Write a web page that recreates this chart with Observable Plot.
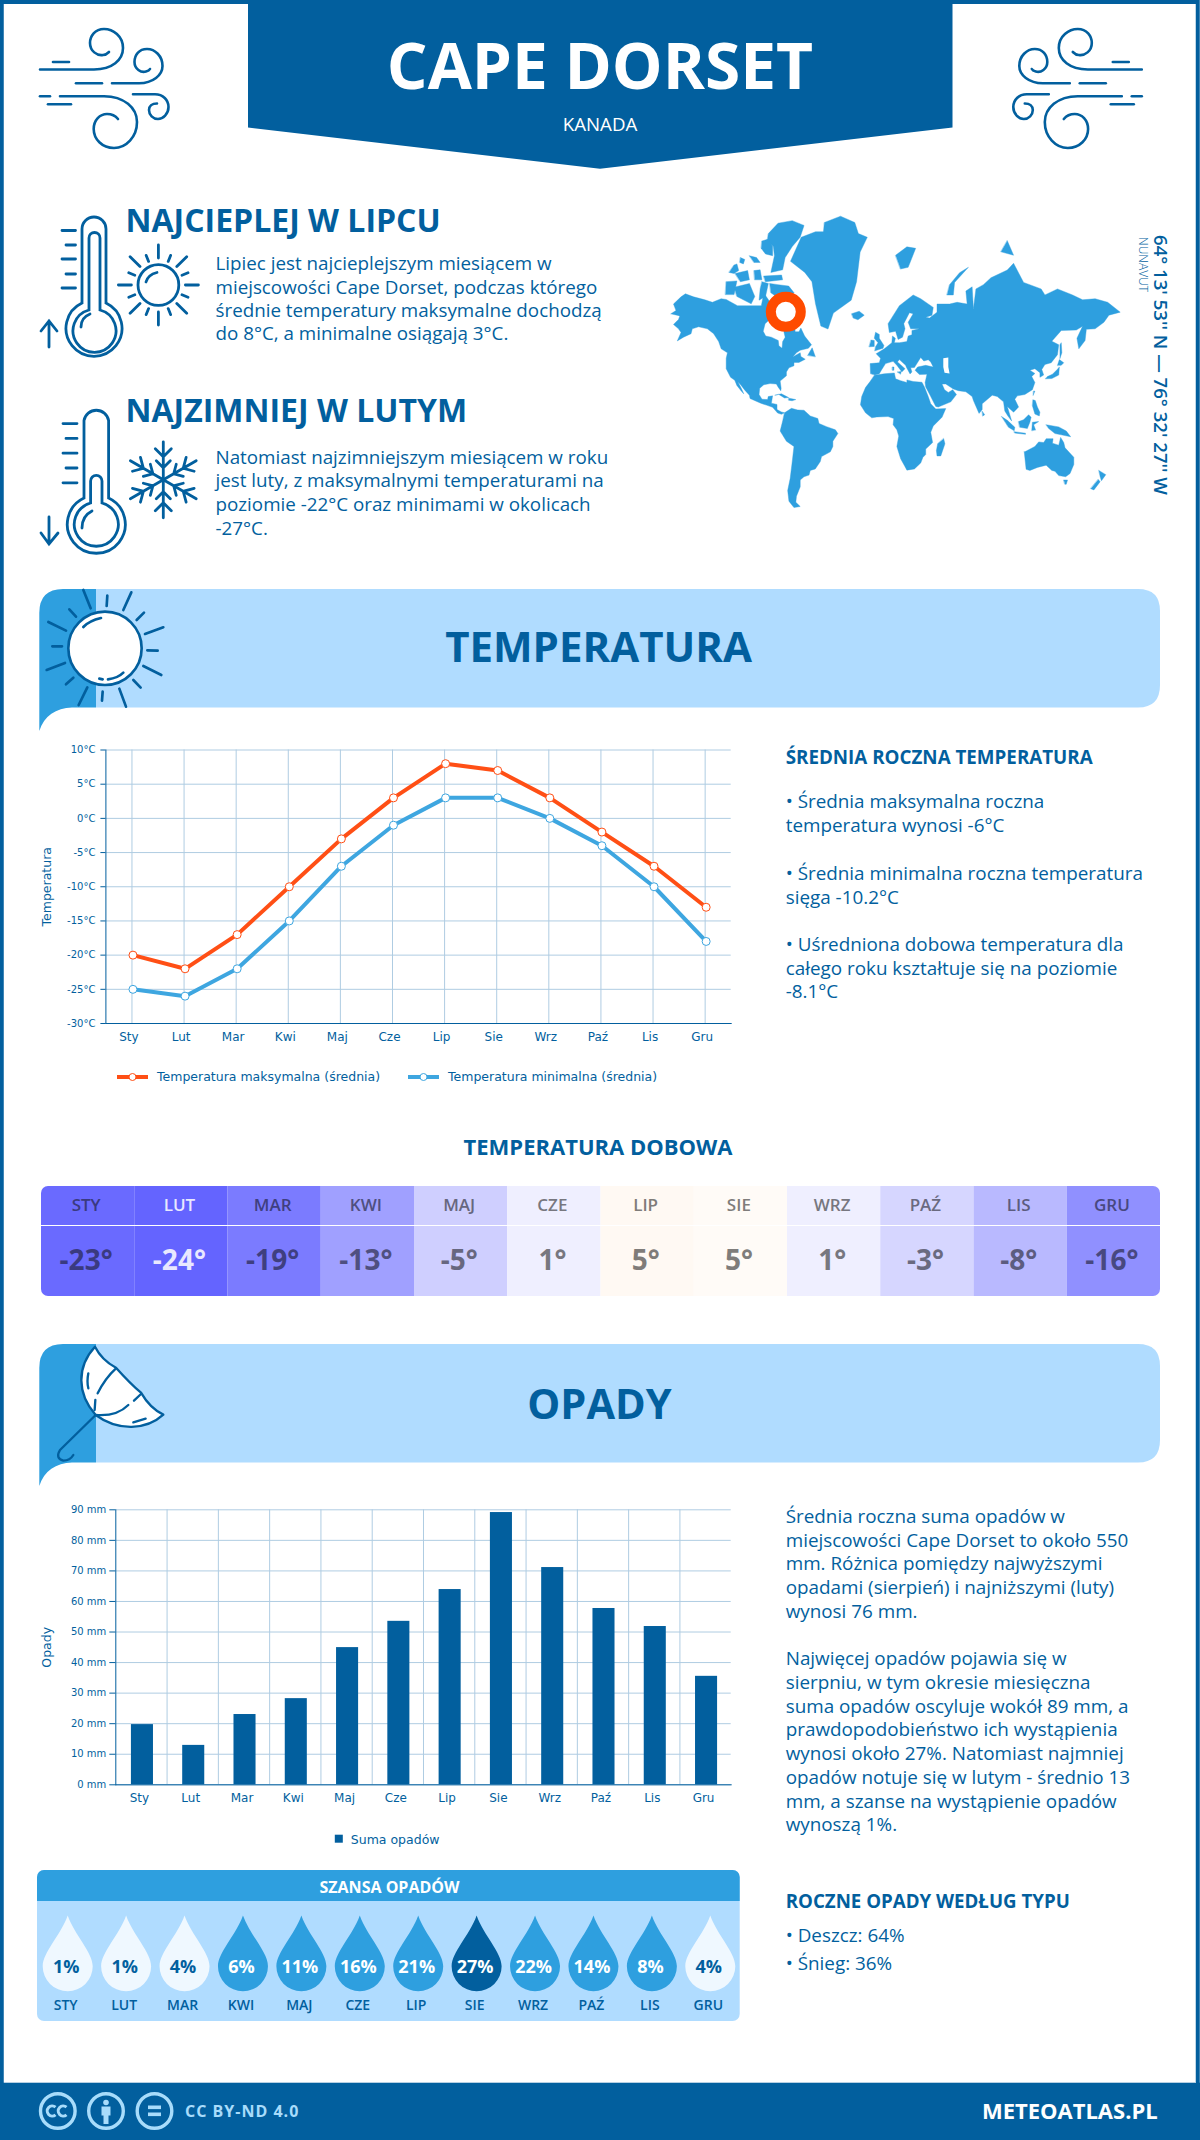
<!DOCTYPE html>
<html lang="pl">
<head>
<meta charset="utf-8">
<title>Cape Dorset</title>
<script src="https://cdn.jsdelivr.net/npm/d3@7"></script>
<script src="https://cdn.jsdelivr.net/npm/@observablehq/plot@0.6"></script>
<style>
html,body{margin:0;padding:0;background:#fff}
#page{position:relative;width:1200px;height:2140px;overflow:hidden;background:#fff;font-family:"Open Sans",sans-serif}
#page>svg.bg{position:absolute;left:0;top:0}
.slot{position:absolute}
.slot svg{display:block;overflow:visible}
</style>
</head>
<body>
<div id="page"></div>
<script>
// ---------- data ----------
const months = ["Sty","Lut","Mar","Kwi","Maj","Cze","Lip","Sie","Wrz","Paź","Lis","Gru"];
const monthsUpper = ["STY","LUT","MAR","KWI","MAJ","CZE","LIP","SIE","WRZ","PAŹ","LIS","GRU"];
const tempMax = [-20,-22,-17,-10,-3,3,8,7,3,-2,-7,-13];
const tempMin = [-25,-26,-22,-15,-7,-1,3,3,0,-4,-10,-18];
const tempDaily = [-23,-24,-19,-13,-5,1,5,5,1,-3,-8,-16];
const tempCellColors = ["#6a6aff","#6464ff","#7b7bff","#a0a0ff","#cfcfff","#efefff","#fff9f3","#fffbf7","#efefff","#d6d6ff","#b9b9ff","#9090ff"];
const tempTextColors = ["#3a3a80","#e8e8ff","#3f3f80","#4f4f80","#67677f","#77777f","#7f7c79","#7f7d7b","#77777f","#6a6a7f","#5c5c7f","#484880"];
const precip = [19.7,12.9,23,28.2,44.9,53.5,63.9,89.1,71.1,57.7,51.8,35.5];
const rainChance = [1,1,4,6,11,16,21,27,22,14,8,4];
const dropColors = ["#eff8ff","#eff8ff","#eff8ff","#2e9fdf","#2e9fdf","#2e9fdf","#2e9fdf","#025f9e","#2e9fdf","#2e9fdf","#2e9fdf","#eff8ff"];
const dropTextColors = ["#025f9e","#025f9e","#025f9e","#ffffff","#ffffff","#ffffff","#ffffff","#ffffff","#ffffff","#ffffff","#ffffff","#025f9e"];
const tempTicks = [-30,-25,-20,-15,-10,-5,0,5,10];
const precipTicks = [0,10,20,30,40,50,60,70,80,90];

// coastlines traced by eye as [lon, lat]
const northAmerica = [[-168,65.5],[-164,66.5],[-166,68.5],[-160,70.5],[-156.5,71.3],[-150,70.5],[-141,69.7],[-135,69],[-128,70],[-124,69.8],[-115,68],[-108,68],[-96,68],[-94,71.5],[-89,69],[-85,69.5],[-81.5,68],[-86,66.5],[-87,64.5],[-93,62],[-94.5,59],[-92.5,57],[-88,56.5],[-82.5,55],[-82,52.5],[-79.5,51.3],[-79,54.5],[-77,56.5],[-78,58.7],[-78,62.3],[-73,62],[-69.5,61],[-69,58.8],[-66,58.8],[-64.5,60.3],[-61.5,57],[-56,53],[-58.5,51.3],[-65,50.3],[-68,49],[-71,46.8],[-65,49],[-64.5,47],[-61,45.5],[-66,43.7],[-70,43.7],[-70,41.7],[-74,40.5],[-76,38],[-76,35.5],[-81,32],[-80.2,27],[-80.5,25.2],[-82.7,28],[-84,30],[-89,30.3],[-94,29.5],[-97.3,27],[-97.8,22.5],[-95.5,19],[-91,18.7],[-90.5,21],[-87,21.5],[-88,16],[-83.5,15],[-83.5,11],[-80,9.2],[-77.5,8.5],[-80,7.3],[-83,8.3],[-87,12.8],[-92,14.5],[-96,15.8],[-105,19.5],[-105.5,22],[-109,25.5],[-112.5,29.5],[-114.7,31.5],[-112,27],[-110,23],[-112,25],[-115.5,29],[-117.2,32.6],[-120.5,34.5],[-124,40],[-124,46],[-123,49],[-128,51],[-130,54.5],[-134,58],[-139,60],[-146,60.8],[-151,60],[-152,58],[-158,56.5],[-163,54.8],[-160,58.5],[-162,60],[-166,61.7],[-162,63.5],[-161,64.7],[-168,65.5]];
const southAmerica = [[-77.5,8.5],[-72,12],[-67,10.7],[-62,10.5],[-57,6],[-51,4],[-50,0],[-44,-2.5],[-37,-5],[-35,-8],[-39,-14],[-39,-18],[-41,-22],[-48,-25.5],[-49,-29],[-53,-34],[-57,-35],[-58,-38],[-62,-39],[-65,-41],[-65,-45],[-68,-50],[-68.5,-53],[-65,-55],[-70,-55.5],[-74,-52.5],[-75,-47],[-73,-40],[-71.5,-30],[-70,-18],[-76,-14],[-81,-6],[-80,-2],[-79,2],[-77.5,8.5]];
const africa = [[-5.8,35.8],[2,36.8],[10,37.3],[11,33.5],[15,32.3],[20,31],[20,32.8],[25,31.7],[32,31.2],[34,28],[37,21],[39,15.5],[43,11.5],[51,11.8],[48,5],[41,-2],[39,-7],[40.5,-15],[35,-20],[35,-24],[32.8,-26],[31,-30],[26,-34],[20,-34.8],[18.2,-32],[15,-27],[12,-18],[13.5,-10],[12,-5],[9,-1],[9.5,4],[5,5.5],[-4,5.2],[-8,4.5],[-13,8.5],[-17,14.7],[-16,21],[-13,27.5],[-9.5,31.5],[-5.8,35.8]];
const eurasia = [[-9,37],[-9.3,43],[-2,43.5],[-1,46],[-4.5,48.5],[2,51],[8,54],[8.5,57],[10.8,56],[10,54],[14,54],[20,54.5],[21,57],[24,57.5],[24,59.3],[30,60],[23,60],[21,62.5],[25,65.5],[22,65.8],[17.5,62],[18.5,60],[16.5,56.5],[13,55.5],[11,59],[6,58.5],[5,62],[14,68],[25,71],[31,70],[41,67.5],[40,65],[35,64.3],[38,64],[44,66],[44,68.5],[54,68.5],[60,69],[68,68.5],[67,72],[72,73],[73,67],[75,72.5],[81,73.5],[87,75],[100,76.5],[105,77.7],[113,74],[127,72.5],[130,71],[140,72.5],[152,71],[160,69.7],[170,70],[180,69],[190,66],[181,65],[177,62.5],[170,60],[163,59.8],[162,55],[157,51],[155.5,56],[160,61],[155,59.5],[143,59.3],[135.5,54.7],[141,53],[140,48],[135,43.5],[130,42.5],[127.5,39.5],[129,36],[126,34.5],[126,37.5],[122,40],[118,39],[122,37],[119.5,35],[122,31],[120,26],[114,22.5],[108,21.5],[106,19],[109,13],[105,9],[100,13.5],[103.5,2],[100.5,6],[98,10],[97,17],[92,21],[88,22],[80,15.5],[80,11],[77.5,8],[73,18],[72,21],[67,24.5],[61,25.3],[57,26.5],[51,30],[48,30],[50,26],[53,24],[56.5,26],[59.5,22.5],[55,17],[45,13],[43,13.5],[39,21],[35,28],[34.5,31],[36,36.5],[30,36.3],[26.5,39],[28.5,41],[35,42],[41,41],[39,44],[37,45.2],[33.5,44.5],[31,46.5],[28,43],[26,40.7],[23,40.5],[24,38],[22.5,36.7],[19.5,41],[19,42],[14,45.3],[12.5,44],[18.5,40],[16,38],[12,42],[9,44.3],[3,43],[0,39.5],[-2,36.8],[-5.5,36],[-9,37]];
const australia = [[113.5,-22],[115,-34.3],[118,-35],[124,-33],[131,-31.5],[135.5,-35],[138,-35.5],[141,-38.3],[146.5,-39],[150,-37],[153,-31],[153,-26],[146,-19],[145,-15],[142.5,-11],[141,-17],[136,-15.5],[136.5,-12],[131,-12],[129,-15],[125,-14.5],[122,-18],[114,-22],[113.5,-22]];
const islands = [
 [[-87,65.5],[-81,64.5],[-81,63],[-86,63.5],[-87,65.5]],
 [[-5.5,50],[1,51.3],[1.7,52.7],[-2,56],[-2,57.7],[-5,58.6],[-6,56],[-3,54],[-5,52],[-5.5,50]],
 [[-10,52],[-6,52.2],[-6,55],[-8.5,55.2],[-10,52]],
 [[-24,65.5],[-18,66.3],[-14,65],[-19,63.4],[-22.7,64],[-24,65.5]],
 [[11,79],[20,80.2],[27,80],[21,77],[15,76.7],[11,79]],
 [[52,71],[57,71],[58,74],[69,77],[62,76],[54,73.5],[52,71]],
 [[95,79.5],[105,79],[100,81],[95,79.5]],
 [[130.5,33.5],[135.5,33.7],[141,36],[141.5,41],[139.8,39.5],[136,36.5],[132,35],[130.5,33.5]],
 [[140,42],[141.5,45.3],[145,43.5],[143,42],[140,42]],
 [[142,46],[143.5,49],[143,54],[142,53],[142,46]],
 [[80,9.7],[82,7],[80.5,6],[80,9.7]],
 [[49.3,-12],[50.3,-16],[47,-25],[44,-25],[43.5,-21],[44.5,-16],[49.3,-12]],
 [[95.5,5.5],[100,2.5],[106,-3],[105.5,-5.8],[101,-3],[95.5,5.5]],
 [[105.5,-6.5],[114.5,-7.7],[114.5,-8.6],[106,-7.6],[105.5,-6.5]],
 [[109,1.5],[113,3],[117,7],[119,5],[118,1],[116,-4],[110,-3],[109,1.5]],
 [[119.5,-5.5],[120,1],[125,1.5],[121,-1],[122.5,-5],[119.5,-5.5]],
 [[131,-1],[141,-2.7],[147,-6],[150.5,-10.5],[143,-9],[138,-8],[133,-4],[131,-1]],
 [[120.5,18.5],[122.3,18],[124,13],[126,9],[125.5,6],[122,7.5],[120,14],[120.5,18.5]],
 [[121,25],[122,25],[120.7,22],[121,25]],
 [[145,-41],[148,-41],[147,-43.5],[146,-43.5],[145,-41]],
 [[173,-35],[178.5,-37.7],[175,-41.5],[174,-39],[173,-35]],
 [[172.5,-40.7],[174,-42],[169,-46.7],[166.5,-46],[172.5,-40.7]],
 [[-85,22],[-80,23],[-74.2,20.2],[-77.5,19.9],[-82,22.5],[-85,22]],
 [[-74,19.8],[-68.5,18.7],[-71.5,17.8],[-74.3,18.3],[-74,19.8]],
 [[-59,47.7],[-55.5,51.5],[-53,47],[-59,47.7]],
 [[8.5,41],[9.7,41],[9.6,39],[8.5,39],[8.5,41]],
 [[12.5,38],[15.5,38.2],[15,36.7],[12.5,38]]
];
const caspian = [[49,46],[53,46.5],[53,41],[54,37],[50,37.5],[49,41],[49,46]];
// in crop pixels of the map region
const arcticTraced = [
 [[358,630],[385,602],[425,595],[458,608],[447,640],[425,665],[405,695],[398,728],[365,735],[375,690],[372,665],[355,650]],
 [[340,650],[358,645],[370,665],[370,690],[350,685],[338,670]],
 [[305,690],[325,695],[335,708],[318,708]],
 [[280,695],[292,700],[288,712],[278,708]],
 [[262,715],[270,712],[275,730],[262,738],[248,735]],
 [[265,738],[300,730],[305,755],[280,760]],
 [[318,730],[335,728],[340,755],[320,755]],
 [[345,745],[395,742],[398,755],[350,760]],
 [[240,760],[270,758],[262,795],[238,795]],
 [[262,775],[305,765],[320,800],[310,820],[270,800]],
 [[362,765],[385,768],[415,772],[430,790],[420,800],[380,800],[365,790]],
 [[340,760],[358,765],[350,800],[332,810],[335,780]]
];
const greenlandTraced = [[515,600],[560,583],[600,600],[610,630],[635,640],[615,680],[605,760],[590,810],[540,845],[525,888],[505,880],[490,820],[480,760],[460,735],[420,705],[450,640],[490,625],[512,625]];
const stationLon = [-76.5];
const stationLat = [66.1];

// ---------- text ----------
const warmText = ["Lipiec jest najcieplejszym miesiącem w","miejscowości Cape Dorset, podczas którego","średnie temperatury maksymalne dochodzą","do 8°C, a minimalne osiągają 3°C."];
const coldText = ["Natomiast najzimniejszym miesiącem w roku","jest luty, z maksymalnymi temperaturami na","poziomie -22°C oraz minimami w okolicach","-27°C."];
const tempNotes = [["• Średnia maksymalna roczna",808.3],["temperatura wynosi -6°C",831.7],["• Średnia minimalna roczna temperatura",879.7],["sięga -10.2°C",904],["• Uśredniona dobowa temperatura dla",950.7],["całego roku kształtuje się na poziomie",975],["-8.1°C",998.3]];
const precipNotes = [["Średnia roczna suma opadów w",1522.7],["miejscowości Cape Dorset to około 550",1546.5],["mm. Różnica pomiędzy najwyższymi",1570.3],["opadami (sierpień) i najniższymi (luty)",1594],["wynosi 76 mm.",1617.5],["Najwięcej opadów pojawia się w",1665],["sierpniu, w tym okresie miesięczna",1689],["suma opadów oscyluje wokół 89 mm, a",1712.7],["prawdopodobieństwo ich wystąpienia",1736],["wynosi około 27%. Natomiast najmniej",1760],["opadów notuje się w lutym - średnio 13",1783.7],["mm, a szanse na wystąpienie opadów",1807.5],["wynoszą 1%.",1830.7]];

// ---------- style ----------
const BLUE="#025f9e", MID="#2e9fdf", LIGHT="#b0dcff", GRID="#afcce2", RED="#ff4f15", SKY="#3ea6e0";
const DJ='"DejaVu Sans",sans-serif', OS='"Open Sans",sans-serif';

// ---------- decoration: background svg ----------
function T(x,y,s,o={}){
  const t=`<text x="${x}" y="${y}" font-family='${o.family||OS}' font-size="${o.size||18.85}" font-weight="${o.weight||400}" fill="${o.fill||BLUE}" text-anchor="${o.anchor||"start"}"${o.rot?` transform="rotate(${o.rot} ${x} ${y})"`:""}${o.ls?` letter-spacing="${o.ls}"`:""}>${s}</text>`;
  return t;
}
function seg(x1,y1,x2,y2){return `M${x1},${y1}L${x2},${y2}`;}
function bannerPaths(y){
  const dy=y-589;
  return `<g transform="translate(0 ${dy})">
  <path d="M96,589H1138Q1160,589 1160,611V685Q1160,707.5 1138,707.5H96Z" fill="${LIGHT}"/>
  <path d="M96,589H63Q39.3,589 39.3,613V731C44,716 56,708 72,707.5H96Z" fill="${MID}"/></g>`;
}
const windIcon=`<g fill="none" stroke="${BLUE}" stroke-width="2.6" stroke-linecap="round">
<path d="M40,69.5H94C112,69.5 123,60 123,48C123,36 113,29 104,29C95,29 90,36 90,43C90,51 97,56 103,55C106,55 108,53 109,52"/>
<path d="M53,62H69"/><path d="M112,83.2H139C153,83.2 162.5,75 162.5,66C162.5,56 155,49 147,49C139,49 134.5,55 134.5,62C134.5,69 141,73 146,71.5C148,71 149.5,70 150,69"/>
<path d="M76,83.2H102"/><path d="M60,96.2H104C124,96.2 137,108 137,122C137,137 126,148 114,148C102,148 93.7,139 93.7,129C93.7,120 100,114 107,114C112,114 116,116.5 118,119"/>
<path d="M40,96.2H50"/><path d="M48,104.3H71"/>
<path d="M133,94.3H155C163,94.3 168.5,100 168.5,107C168.5,114 163,119 158,119C153,119 149,115 149,110C149,106 152,103.5 157,103.5"/></g>`;
function sunSmall(){
  const cx=158.4,cy=285; let d="";
  for(let i=0;i<8;i++){const a=i*Math.PI/4,r1=i%2?26:27,r2=i%2?40:40;
    d+=seg((cx+r1*Math.sin(a)).toFixed(1),(cy-r1*Math.cos(a)).toFixed(1),(cx+r2*Math.sin(a)).toFixed(1),(cy-r2*Math.cos(a)).toFixed(1));}
  for(let i=0;i<8;i++){const a=(i+.5)*Math.PI/4,r1=25.5,r2=32;
    d+=seg((cx+r1*Math.sin(a)).toFixed(1),(cy-r1*Math.cos(a)).toFixed(1),(cx+r2*Math.sin(a)).toFixed(1),(cy-r2*Math.cos(a)).toFixed(1));}
  return `<g fill="none" stroke="${BLUE}" stroke-width="2.8" stroke-linecap="round"><circle cx="${cx}" cy="${cy}" r="20.4"/><path d="${d}"/><path d="M146,282C147,278 151,274 157,272.5"/></g>`;
}
function snow(){
  const cx=163.3,cy=479.8; let d="";
  for(let i=0;i<6;i++){
    d+=`<g transform="rotate(${i*60} ${cx} ${cy})"><path d="M${cx},${cy}V${cy-38}M${cx-8},${cy-31}L${cx},${cy-23}L${cx+8},${cy-31}M${cx-7},${cy-19}L${cx},${cy-12}L${cx+7},${cy-19}"/></g>`;
  }
  return `<g fill="none" stroke="${BLUE}" stroke-width="2.8" stroke-linecap="round">${d}</g>`;
}
const thermoWarm=`<g fill="none" stroke="${BLUE}" stroke-width="2.8" stroke-linecap="round">
<path d="M82,303V229A12,12 0 0 1 106,229V303A28,28 0 1 1 82,303Z"/>
<path d="M89,310V238A5.5,5.5 0 0 1 100,238V310A21.5,21.5 0 1 1 89,310Z"/>
<path d="M81,327C81,320 85,316 90,314"/>
<path d="M62,230.5H75.5M66,245H75.5M62,259H75.5M66,274H75.5M62,288H75.5"/>
<path d="M49,321V347M41,331L49,321L57,331"/></g>`;
const thermoCold=`<g fill="none" stroke="${BLUE}" stroke-width="2.8" stroke-linecap="round">
<path d="M84,498V420.5A12.5,12.5 0 0 1 108.6,420.5V498A29,29 0 1 1 84,498Z"/>
<path d="M90.6,503V481A5.7,5.7 0 0 1 102,481V503A22,22 0 1 1 90.6,503Z"/>
<path d="M82,528C82,519 86,514 92,511"/>
<path d="M63,423.6H77M66,438.4H77M63,453.2H77M66,468H77M63,482.8H77"/>
<path d="M49,517V544M41,533L49,544L58,533"/></g>`;
const bigSunRays=[[160,30,182,85],[118,88,138,110],[55,126,108,152],[67,199,96,199],[50,270,105,249],[108,313,130,293],[146,375,172,322],[216,362,218,335],[288,380,268,326],[332,323,310,300],[394,285,340,258],[383,212,352,211],[345,162,400,142],[320,120,342,98],[280,90,304,37],[230,78,232,47]];
const bigSun=`<g transform="translate(30 580) scale(.3333)" fill="none" stroke="${BLUE}" stroke-width="8" stroke-linecap="round">
<circle cx="225" cy="205" r="110" fill="#fff"/>
<path d="${bigSunRays.map(r=>seg(...r)).join("")}"/>
<path d="M160,141C175,125 195,118 213,114"/><path d="M234,298C250,296 268,290 280,278"/><path d="M208,296L218,298"/></g>`;
const umbrella=`<g transform="translate(30 1340) scale(.3333)" fill="none" stroke="${BLUE}" stroke-width="7" stroke-linecap="round" stroke-linejoin="round">
<path d="M195,20Q215,60 258,83Q300,130 333,158Q360,205 400,224C350,270 265,275 197,225C140,160 140,80 195,20Z" fill="#fff"/>
<path d="M197,225Q260,230 295,195"/><path d="M312,182L333,162"/><path d="M194,210L196,180"/><path d="M203,160Q225,115 258,85"/>
<path d="M175,100Q170,125 175,145"/><path d="M310,247L347,236"/>
<path d="M197,225L90,330Q75,355 100,362Q120,362 130,345"/></g>`;
const ccColor="#a8dcfb";
const ccIcons=`<g fill="none" stroke="${ccColor}" stroke-width="3.4">
<circle cx="57.8" cy="2111" r="17.3"/><circle cx="106" cy="2111" r="17.3"/><circle cx="154.5" cy="2111" r="17.3"/>
<path d="M55.5,2107.2A5,5 0 1 0 55.5,2114.8M66.5,2107.2A5,5 0 1 0 66.5,2114.8" stroke-width="3"/></g>
<g fill="${ccColor}"><circle cx="106" cy="2102.5" r="2.8"/><path d="M101.5,2106.5H110.5V2115.5H108.5V2124H103.5V2115.5H101.5Z"/>
<rect x="148" y="2105.5" width="13" height="3.6"/><rect x="148" y="2112.5" width="13" height="3.6"/></g>`;

let s=`<svg class="bg" width="1200" height="2140" xmlns="http://www.w3.org/2000/svg">`;
// frame and header
s+=`<rect x="1.75" y="2" width="1196" height="2136" fill="none" stroke="${BLUE}" stroke-width="4"/>`;
s+=`<path d="M248,0H952.5V127.5L600,168.7L248,127.5Z" fill="${BLUE}"/>`;
s+=windIcon+`<g transform="translate(1181.8 0) scale(-1 1)">${windIcon}</g>`;
s+=T(600,88.5,"CAPE DORSET",{size:64,weight:700,fill:"#fff",anchor:"middle"});
s+=T(600,130.5,"KANADA",{size:18.7,fill:"#fff",anchor:"middle"});
// warm / cold
s+=thermoWarm+sunSmall()+thermoCold+snow();
s+=T(125.5,232,"NAJCIEPLEJ W LIPCU",{size:32,weight:700});
s+=T(125.5,421.7,"NAJZIMNIEJ W LUTYM",{size:32,weight:700});
[270,293.5,317,340.3].forEach((y,i)=>s+=T(215.5,y,warmText[i],{size:18.8}));
[464,487,510.5,534.5].forEach((y,i)=>s+=T(215.5,y,coldText[i],{size:18.8}));
// coordinates
s+=T(1154,235,"64° 13' 53'' N — 76° 32' 27'' W",{size:18.6,weight:600,rot:90});
s+=T(1139,237,"NUNAVUT",{size:12,weight:300,rot:90});
// banners
s+=bannerPaths(589)+bannerPaths(1344);
s+=bigSun+umbrella;
s+=T(598.6,662,"TEMPERATURA",{size:42,weight:700,anchor:"middle"});
s+=T(599.5,1418.5,"OPADY",{size:41.5,weight:700,anchor:"middle"});
// notes
s+=T(785.7,764,"ŚREDNIA ROCZNA TEMPERATURA",{size:18.8,weight:700});
tempNotes.forEach(([t,y])=>s+=T(785.7,y,t));
precipNotes.forEach(([t,y])=>s+=T(785.7,y,t));
s+=T(785.7,1908,"ROCZNE OPADY WEDŁUG TYPU",{size:18.7,weight:700});
s+=T(785.7,1941.7,"• Deszcz: 64%")+T(785.7,1970,"• Śnieg: 36%");
s+=T(598,1154.7,"TEMPERATURA DOBOWA",{size:22,weight:700,anchor:"middle"});
// temperature legend
s+=`<path d="M117,1077H148" stroke="${RED}" stroke-width="4"/><circle cx="132.5" cy="1077" r="3.5" fill="#fff" stroke="${RED}"/>`;
s+=`<path d="M408,1077H439" stroke="${SKY}" stroke-width="4"/><circle cx="423.5" cy="1077" r="3.5" fill="#fff" stroke="${SKY}"/>`;
s+=T(157,1081,"Temperatura maksymalna (średnia)",{family:DJ,size:12.5})+T(448,1081,"Temperatura minimalna (średnia)",{family:DJ,size:12.5});
// precipitation legend
s+=`<rect x="334.8" y="1834.7" width="8" height="8" fill="${BLUE}"/>`;
s+=T(350.8,1843.5,"Suma opadów",{family:DJ,size:12.5});
// rain chance box
s+=`<rect x="37" y="1870" width="702.7" height="151" rx="7" fill="${LIGHT}"/>`;
s+=`<path d="M37,1901V1877A7,7 0 0 1 44,1870H732.7A7,7 0 0 1 739.7,1877V1901Z" fill="${MID}"/>`;
s+=T(389.5,1892.7,"SZANSA OPADÓW",{size:16,weight:700,fill:"#fff",anchor:"middle"});
// footer
s+=`<rect x="0" y="2082.7" width="1200" height="57.3" fill="${BLUE}"/><rect x="4" y="2082" width="1192" height="1" fill="#b5cfe3"/>`;
s+=ccIcons;
s+=T(185,2117,"CC BY-ND 4.0",{size:16,weight:700,fill:ccColor,ls:1});
s+=T(1157.7,2119.3,"METEOATLAS.PL",{size:22,weight:700,fill:"#fff",anchor:"end"});
s+=`</svg>`;
const page=document.getElementById("page");
page.innerHTML=s;

function place(node,x,y,extra){
  const d=document.createElement("div");d.className="slot";d.style.left=x+"px";d.style.top=y+"px";
  if(extra)Object.assign(d.style,extra);d.appendChild(node);page.appendChild(d);
}

// ---------- world map ----------
const mapLeft=650,mapTop=200;
const pxPerRad=71.9,lon0=881.3-mapLeft,eq=423-mapTop;
const fromCrop=([zx,zy])=>{
  const px=640+zx/2.8,py=zy/2.703;
  return [(px-881.3)/1.2549,(2*Math.atan(Math.exp((423-py)/pxPerRad))-Math.PI/2)*180/Math.PI];
};
const closeRing=r=>{const q=r.map(fromCrop);q.push(q[0]);return q;};
const mercator=d3.geoTransform({point(lon,lat){
  const k=Math.PI/180;
  this.stream.point(lon0+pxPerRad*lon*k,eq-pxPerRad*Math.log(Math.tan(Math.PI/4+lat*k/2)));
}});
const land=[northAmerica,southAmerica,africa,eurasia,australia,...islands,closeRing(greenlandTraced),...arcticTraced.map(closeRing)].map(r=>({type:"Polygon",coordinates:[r]}));
place(Plot.plot({
  width:490,height:320,margin:0,projection:mercator,
  style:{background:"transparent"},
  marks:[
    Plot.geo(land,{fill:MID,stroke:MID,strokeWidth:.4}),
    Plot.geo([{type:"Polygon",coordinates:[caspian]}],{fill:"#fff"}),
    Plot.dot(stationLon.map((lon,i)=>[lon,stationLat[i]]),{x:d=>d[0],y:d=>d[1],r:15,fill:"#fff",stroke:"#ff4b00",strokeWidth:10})
  ]
}),mapLeft,mapTop);

// ---------- temperature chart ----------
const axisStyle={background:"transparent",fontFamily:DJ,fontSize:"10px",color:BLUE};
const tMaxRows=months.map((m,i)=>({m,v:tempMax[i]})), tMinRows=months.map((m,i)=>({m,v:tempMin[i]}));
place(Plot.plot({
  width:720,height:313,marginLeft:85.4,marginRight:9.3,marginTop:9.5,marginBottom:30,
  style:axisStyle,
  x:{type:"point",domain:months,padding:.5,round:false,label:null},
  y:{domain:[-30,10],label:null},
  marks:[
    Plot.gridX({stroke:GRID,strokeOpacity:1}),
    Plot.gridY(tempTicks,{stroke:GRID,strokeOpacity:1}),
    Plot.frame({anchor:"left",stroke:BLUE}),
    Plot.frame({anchor:"bottom",stroke:BLUE}),
    Plot.axisY(tempTicks,{tickSize:5,tickPadding:5.5,tickFormat:d=>d+"°C",stroke:BLUE,fill:BLUE,fontSize:10,label:null}),
    Plot.axisX({tickSize:0,tickPadding:9,fill:BLUE,fontSize:12,dx:-3,label:null}),
    Plot.text(["Temperatura"],{frameAnchor:"left",textAnchor:"middle",rotate:-90,dx:-59.4,fontSize:12.5,fill:BLUE}),
    Plot.line(tMaxRows,{x:"m",y:"v",stroke:RED,strokeWidth:4,dx:1}),
    Plot.line(tMinRows,{x:"m",y:"v",stroke:SKY,strokeWidth:4,dx:1}),
    Plot.dot(tMaxRows,{x:"m",y:"v",r:4,fill:"#fff",stroke:RED,strokeWidth:1,dx:1}),
    Plot.dot(tMinRows,{x:"m",y:"v",r:4,fill:"#fff",stroke:SKY,strokeWidth:1,dx:1})
  ]
}),20,740);

// ---------- daily temperature table ----------
const cellX={type:"band",domain:monthsUpper,padding:0,round:false,axis:null};
const tableWrap=document.createElement("div");
tableWrap.style.cssText="width:1119px;height:110px;border-radius:7px;overflow:hidden;background:#fff";
tableWrap.appendChild(Plot.plot({
  width:1119,height:39,margin:0,x:cellX,style:{background:"transparent",fontFamily:OS},
  marks:[
    Plot.cell(monthsUpper,{x:d=>d,fill:(d,i)=>tempCellColors[i]}),
    Plot.text(monthsUpper,{x:d=>d,frameAnchor:"middle",text:d=>d,fill:(d,i)=>tempTextColors[i],fontSize:17,fontWeight:600,dx:-2})
  ]
}));
const gap=document.createElement("div");gap.style.height="1px";tableWrap.appendChild(gap);
const vals=monthsUpper.map((m,i)=>({m,v:tempDaily[i]+"°"}));
tableWrap.appendChild(Plot.plot({
  width:1119,height:70,margin:0,x:cellX,style:{background:"transparent",fontFamily:OS},
  marks:[
    Plot.cell(vals,{x:"m",fill:(d,i)=>tempCellColors[i]}),
    Plot.text(vals,{x:"m",frameAnchor:"middle",text:"v",fill:(d,i)=>tempTextColors[i],fontSize:28,fontWeight:700,dx:-2})
  ]
}));
place(tableWrap,41,1186);

// ---------- precipitation chart ----------
const pRows=months.map((m,i)=>({m,v:precip[i]}));
const step=(730.7-115.3)/12;
place(Plot.plot({
  width:720,height:334.3,marginLeft:95.3,marginRight:9.3,marginTop:9.3,marginBottom:50,
  style:axisStyle,
  x:{type:"band",domain:months,paddingInner:.57,paddingOuter:.285,round:false,label:null},
  y:{domain:[0,90],label:null},
  marks:[
    Plot.ruleX(months.slice(0,-1),{x:d=>d,dx:step/2,stroke:GRID,strokeOpacity:1}),
    Plot.gridY(precipTicks,{stroke:GRID,strokeOpacity:1}),
    Plot.frame({anchor:"left",stroke:BLUE}),
    Plot.barY(pRows,{x:"m",y:"v",fill:BLUE,dx:1}),
    Plot.frame({anchor:"bottom",stroke:BLUE}),
    Plot.axisY(precipTicks,{tickSize:6,tickPadding:3.5,tickFormat:d=>d+" mm",stroke:BLUE,fill:BLUE,fontSize:10,label:null}),
    Plot.axisX({tickSize:0,tickPadding:9,fill:BLUE,fontSize:12,dx:-2,label:null}),
    Plot.text(["Opady"],{frameAnchor:"left",textAnchor:"middle",rotate:-90,dx:-69.3,fontSize:12.5,fill:BLUE})
  ]
}),20,1500);

// ---------- chance of rain ----------
const dropSymbol={draw(c,size){
  const r=Math.sqrt(size/Math.PI),k=r/25;
  c.moveTo(0,-50.7*k);
  c.bezierCurveTo(-7*k,-31*k,-25*k,-14*k,-25*k,0);
  c.arc(0,0,r,Math.PI,0,true);
  c.bezierCurveTo(25*k,-14*k,7*k,-31*k,0,-50.7*k);
  c.closePath();
}};
const rainRows=monthsUpper.map((m,i)=>({m,v:rainChance[i]+"%"}));
place(Plot.plot({
  width:701,height:120,margin:0,style:{background:"transparent",fontFamily:OS},
  x:{type:"band",domain:monthsUpper,padding:0,round:false,axis:null},
  marks:[
    Plot.dot(rainRows,{x:"m",frameAnchor:"top",dy:64.7,r:25,symbol:dropSymbol,fill:(d,i)=>dropColors[i],stroke:"none"}),
    Plot.text(rainRows,{x:"m",frameAnchor:"top",dy:65.7,dx:-1.5,lineAnchor:"middle",text:"v",fill:(d,i)=>dropTextColors[i],fontSize:18,fontWeight:700}),
    Plot.text(rainRows,{x:"m",frameAnchor:"top",dy:103.7,dx:-2,lineAnchor:"middle",text:"m",fill:"#025f9e",fontSize:14,fontWeight:600})
  ]
}),38,1901);
</script>
</body>
</html>
